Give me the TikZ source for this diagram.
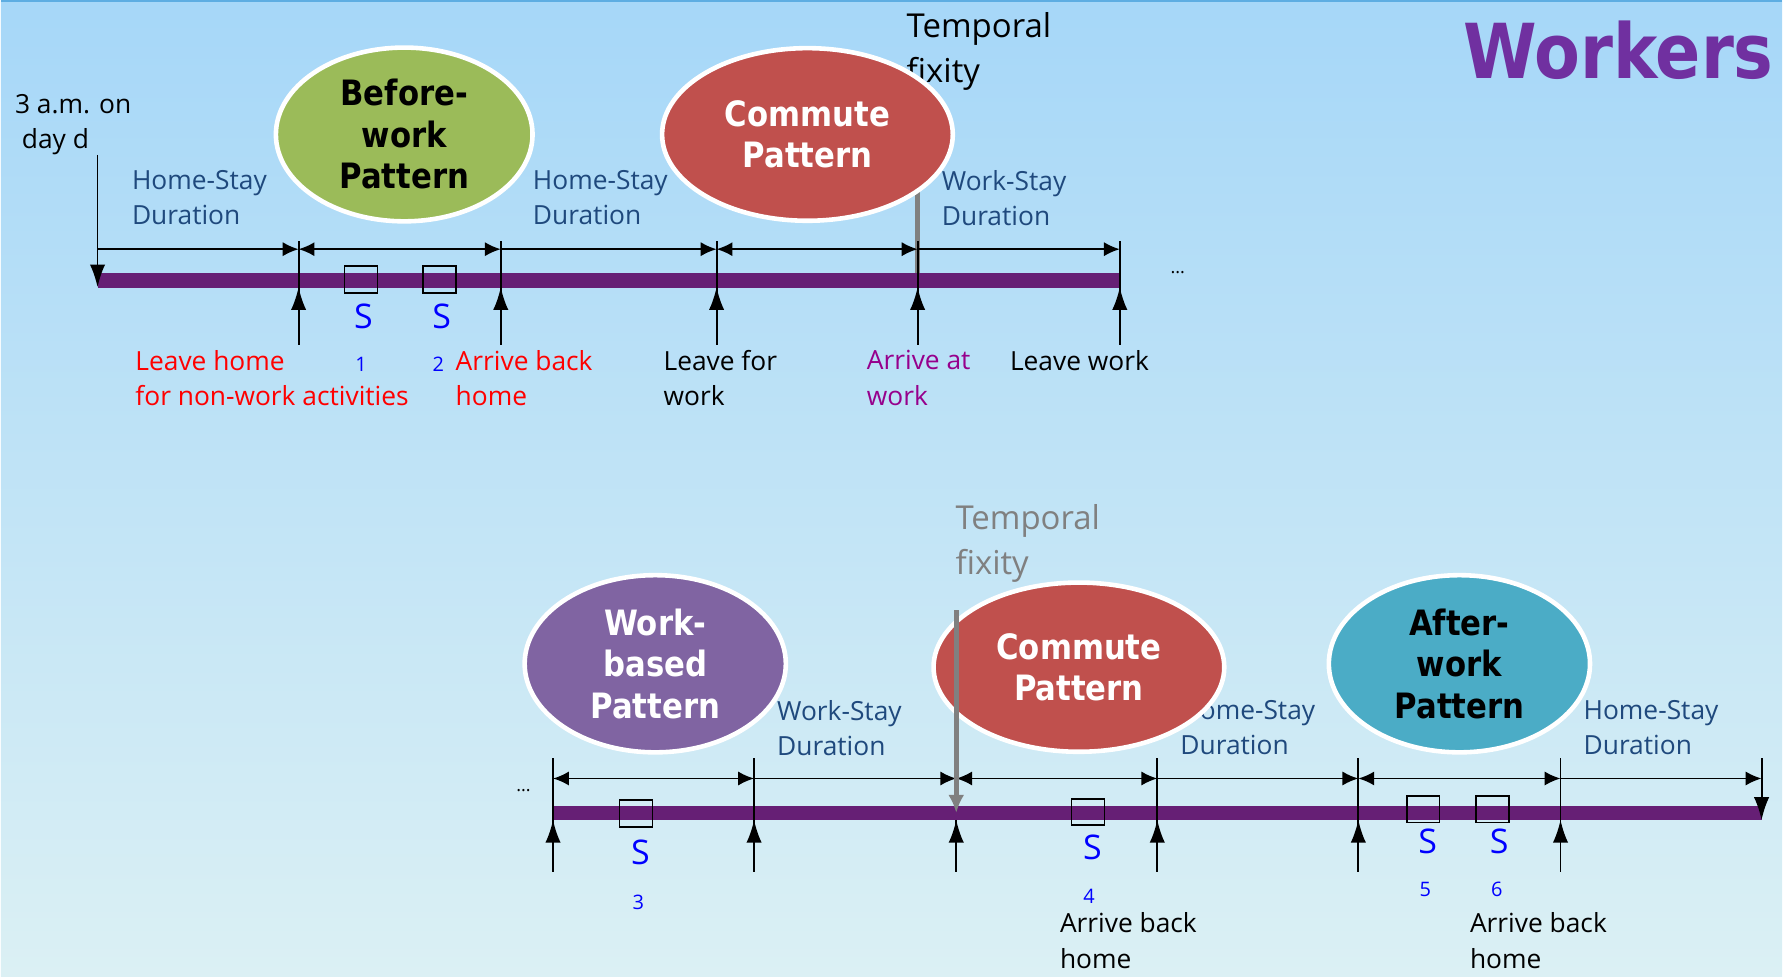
\documentclass[tikz,border=0pt]{standalone}
\usepackage{fontspec}
\setmainfont{Open Sans}
\newfontfamily\patternfont{DejaVu Sans}[FakeStretch=0.88]
\usetikzlibrary{arrows.meta,shapes.geometric,positioning}
\definecolor{skyTop}{RGB}{166,215,248}
\definecolor{skyBottom}{RGB}{219,240,244}
\definecolor{skyEdge}{RGB}{93,173,226}
\definecolor{dayBar}{RGB}{102,31,117}
\definecolor{stayBlue}{RGB}{31,73,125}
\definecolor{beforeGreen}{RGB}{155,187,89}
\definecolor{commuteRed}{RGB}{192,80,77}
\definecolor{workPurple}{RGB}{128,100,162}
\definecolor{afterTeal}{RGB}{75,172,198}
\definecolor{titlePurple}{RGB}{112,48,160}
\definecolor{arrivePurple}{RGB}{150,0,140}

\begin{document}
\begin{tikzpicture}[x=0.02cm,y=-0.02cm,every node/.style={inner sep=0pt},
    labelText/.style={font=\fontsize{13.2}{17.6}\selectfont,align=left,anchor=north west},
    durationLabel/.style={labelText,text=stayBlue},
    fixityLabel/.style={labelText,font=\fontsize{16.5}{22.7}\selectfont},
    patternBubble/.style={ellipse,draw=white,line width=2.3pt,align=center,font=\patternfont\bfseries\fontsize{17.5}{20.8}\selectfont},
    dayBarLine/.style={line width=0.25cm,dayBar},
    stayArrow/.style={line width=0.95pt,-{Latex[length=0.28cm,width=0.25cm]}},
    stayBoth/.style={line width=0.95pt,{Latex[length=0.28cm,width=0.25cm]}-{Latex[length=0.28cm,width=0.25cm]}},
    tickLine/.style={line width=0.95pt},
    eventArrow/.style={line width=0.95pt,-{Latex[length=0.4cm,width=0.27cm]}},
    fixityLine/.style={line width=0.08cm,gray},
    stopBox/.style={draw,line width=0.9pt,minimum width=0.58cm,minimum height=0.47cm},
    stopLetter/.style={text=blue,font=\fontsize{17}{18}\selectfont},
    stopNumber/.style={text=blue,font=\fontsize{10}{12}\selectfont},
    ]

    % background
    \shade[top color=skyTop,bottom color=skyBottom] (0,0) rectangle (1568,859);
    \draw[skyEdge,line width=1pt] (0,0.5) -- (1568,0.5);
    \useasboundingbox (0,0) rectangle (1568,859);

    \node[anchor=east,text=titlePurple,font=\patternfont\bfseries\fontsize{38}{40}\selectfont] (title) at (1561,44) {Workers};

    % event points on the two day bars
    \coordinate (top0) at (85,246.5);
    \coordinate (top1) at (262,246.5);
    \coordinate (top2) at (440,246.5);
    \coordinate (top3) at (630,246.5);
    \coordinate (top4) at (807,246.5);
    \coordinate (top5) at (985,246.5);
    \coordinate (bot0) at (486,715.5);
    \coordinate (bot1) at (663,715.5);
    \coordinate (bot2) at (841,715.5);
    \coordinate (bot3) at (1018,715.5);
    \coordinate (bot4) at (1195,715.5);
    \coordinate (bot5) at (1373,715.5);
    \coordinate (bot6) at (1550,715.5);
    \coordinate (dayStartTop) at (85,136);
    \coordinate (dayEndTop) at (1550,667);
    \coordinate (fixityTopA) at (807,75);
    \coordinate (fixityTopB) at (841,537);

    % texts lying behind the bubbles
    \node[labelText] (dayStart) at (12,82) {3 a.m. on\\\ day d};
    \node[durationLabel] (homeStayA) at (115,149) {Home-Stay\\Duration};
    \node[durationLabel] (homeStayB) at (468,149) {Home-Stay\\Duration};
    \node[durationLabel] (workStayA) at (828,149) {Work-Stay\\Duration};
    \node[fixityLabel] (fixityA) at (797,10) {Temporal\\fixity};
    \node[durationLabel] (workStayB) at (683,616) {Work-Stay\\Duration};
    \node[durationLabel] (homeStayC) at (1038,616) {Home-Stay\\Duration};
    \node[durationLabel] (homeStayD) at (1393,616) {Home-Stay\\Duration};
    \node[fixityLabel,text=gray] (fixityB) at (840,443) {Temporal\\fixity};
    \draw[fixityLine] (fixityTopA) -- ([yshift=0.12cm]top4);

    % activity patterns
    \node[patternBubble,fill=beforeGreen,minimum width=4.52cm,minimum height=3.06cm] (beforeWork) at (355,118) {Before-\\work\\Pattern};
    \node[patternBubble,fill=commuteRed,text=white,minimum width=5.12cm,minimum height=3.04cm] (commuteA) at (710,118) {Commute\\Pattern};
    \node[patternBubble,fill=workPurple,text=white,minimum width=4.6cm,minimum height=3.12cm] (workBased) at (576,584) {Work-\\based\\Pattern};
    \node[patternBubble,fill=commuteRed,text=white,minimum width=5.12cm,minimum height=2.98cm] (commuteB) at (949,587) {Commute\\Pattern};
    \node[patternBubble,fill=afterTeal,minimum width=4.6cm,minimum height=3.12cm] (afterWork) at (1284,584) {After-\\work\\Pattern};

    % day bars
    \draw[dayBarLine] (top0) -- (top5);
    \draw[dayBarLine] (bot0) -- (bot6);

    % stay durations
    \draw[stayArrow] ([yshift=0.55cm]top0) -- ([yshift=0.55cm]top1);
    \draw[stayBoth] ([yshift=0.55cm]top1) -- ([yshift=0.55cm]top2);
    \draw[stayArrow] ([yshift=0.55cm]top2) -- ([yshift=0.55cm]top3);
    \draw[stayBoth] ([yshift=0.55cm]top3) -- ([yshift=0.55cm]top4);
    \draw[stayArrow] ([yshift=0.55cm]top4) -- ([yshift=0.55cm]top5);
    \draw[stayBoth] ([yshift=0.61cm]bot0) -- ([yshift=0.61cm]bot1);
    \draw[stayArrow] ([yshift=0.61cm]bot1) -- ([yshift=0.61cm]bot2);
    \draw[stayBoth] ([yshift=0.61cm]bot2) -- ([yshift=0.61cm]bot3);
    \draw[stayArrow] ([yshift=0.61cm]bot3) -- ([yshift=0.61cm]bot4);
    \draw[stayBoth] ([yshift=0.61cm]bot4) -- ([yshift=0.61cm]bot5);
    \draw[stayArrow] ([yshift=0.61cm]bot5) -- ([yshift=0.61cm]bot6);

    % event ticks
    \draw[eventArrow] (dayStartTop) -- ([yshift=-0.12cm]top0);
    \draw[tickLine] ([yshift=0.69cm]top1) -- ([yshift=-1.13cm]top1);
    \draw[tickLine] ([yshift=0.69cm]top2) -- ([yshift=-1.13cm]top2);
    \draw[tickLine] ([yshift=0.69cm]top3) -- ([yshift=-1.13cm]top3);
    \draw[tickLine] ([yshift=0.69cm]top4) -- ([yshift=-1.13cm]top4);
    \draw[tickLine] ([yshift=0.69cm]top5) -- ([yshift=-1.13cm]top5);
    \draw[eventArrow] ([yshift=-1.13cm]top1) -- ([yshift=-0.12cm]top1);
    \draw[eventArrow] ([yshift=-1.13cm]top2) -- ([yshift=-0.12cm]top2);
    \draw[eventArrow] ([yshift=-1.13cm]top3) -- ([yshift=-0.12cm]top3);
    \draw[eventArrow] ([yshift=-1.13cm]top4) -- ([yshift=-0.12cm]top4);
    \draw[eventArrow] ([yshift=-1.13cm]top5) -- ([yshift=-0.12cm]top5);
    \draw[tickLine] ([yshift=0.97cm]bot0) -- ([yshift=-1.03cm]bot0);
    \draw[tickLine] ([yshift=0.97cm]bot1) -- ([yshift=-1.03cm]bot1);
    \draw[tickLine] ([yshift=-0.12cm]bot2) -- ([yshift=-1.03cm]bot2);
    \draw[tickLine] ([yshift=0.97cm]bot3) -- ([yshift=-1.03cm]bot3);
    \draw[tickLine] ([yshift=0.97cm]bot4) -- ([yshift=-1.03cm]bot4);
    \draw[tickLine] ([yshift=0.97cm]bot5) -- ([yshift=-1.03cm]bot5);
    \draw[eventArrow] ([yshift=-1.03cm]bot0) -- ([yshift=-0.12cm]bot0);
    \draw[eventArrow] ([yshift=-1.03cm]bot1) -- ([yshift=-0.12cm]bot1);
    \draw[eventArrow] ([yshift=-1.03cm]bot2) -- ([yshift=-0.12cm]bot2);
    \draw[eventArrow] ([yshift=-1.03cm]bot3) -- ([yshift=-0.12cm]bot3);
    \draw[eventArrow] ([yshift=-1.03cm]bot4) -- ([yshift=-0.12cm]bot4);
    \draw[eventArrow] ([yshift=-1.03cm]bot5) -- ([yshift=-0.12cm]bot5);
    \draw[eventArrow] (dayEndTop) -- ([yshift=-0.12cm]bot6);
    \draw[fixityLine,-{Latex[length=0.32cm,width=0.28cm]}] (fixityTopB) -- (bot2);

    % stops
    \node[stopBox] (stop1) at (317,245.5) {};
    \node[stopBox] (stop2) at (386,245.5) {};
    \node[stopBox] (stop3) at (559,716) {};
    \node[stopBox] (stop4) at (957,714.5) {};
    \node[stopBox] (stop5) at (1252,712) {};
    \node[stopBox] (stop6) at (1313,712) {};
    \node[stopLetter] (sA) at (319,278) {S};
    \node[stopLetter] (sB) at (388,278) {S};
    \node[stopLetter] (sC) at (563,750) {S};
    \node[stopLetter] (sD) at (961,746) {S};
    \node[stopLetter] (sE) at (1256,740) {S};
    \node[stopLetter] (sF) at (1319,740) {S};
    \node[stopNumber] (nA) at (317,320) {1};
    \node[stopNumber] (nB) at (385,320) {2};
    \node[stopNumber] (nC) at (561,794) {3};
    \node[stopNumber] (nD) at (958,789) {4};
    \node[stopNumber] (nE) at (1254,783) {5};
    \node[stopNumber] (nF) at (1317,783) {6};

    % event labels
    \node[labelText,text=red] (leaveHome) at (118,308) {Leave home\\for non-work activities};
    \node[labelText,text=red] (arriveHomeA) at (400,308) {Arrive back\\home};
    \node[labelText] (leaveForWork) at (583,308) {Leave for\\work};
    \node[labelText,text=arrivePurple] (arriveWork) at (762,308) {Arrive at\\work};
    \node[labelText] (leaveWork) at (888,308) {Leave work};
    \node[labelText] (arriveHomeB) at (932,803) {Arrive back\\home};
    \node[labelText] (arriveHomeC) at (1293,803) {Arrive back\\home};
    \node[font=\fontsize{9}{10}\selectfont] (moreA) at (1036,240) {...};
    \node[font=\fontsize{9}{10}\selectfont] (moreB) at (460,696) {...};
\end{tikzpicture}
\end{document}
